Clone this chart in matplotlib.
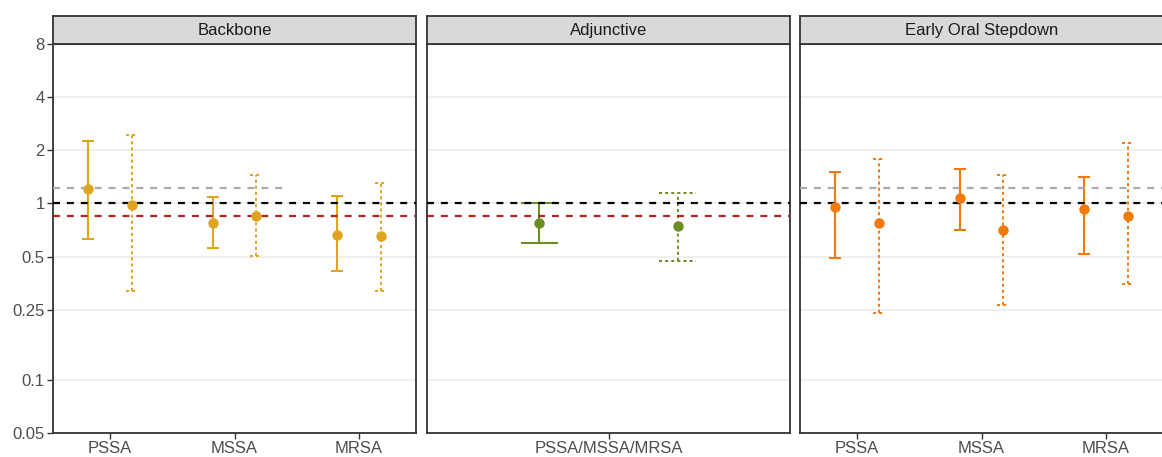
import numpy as np
import matplotlib
matplotlib.use("Agg")
import matplotlib.pyplot as plt

plt.rcParams['font.family'] = ['Liberation Sans', 'DejaVu Sans']
plt.rcParams['lines.scale_dashes'] = False

# Data (ratio estimates with intervals)
panels = ['Backbone', 'Adjunctive', 'Early Oral Stepdown']
colors = ['#DFA520', '#6B8E23', '#F27A0C']

bb_cats = ['PSSA', 'MSSA', 'MRSA']
bb_solid_est = [1.20, 0.773, 0.664]
bb_solid_lo = [0.63, 0.557, 0.413]
bb_solid_hi = [2.26, 1.086, 1.096]
bb_dash_est = [0.974, 0.847, 0.652]
bb_dash_lo = [0.318, 0.502, 0.318]
bb_dash_hi = [2.43, 1.455, 1.31]

adj_cats = ['PSSA/MSSA/MRSA']
adj_solid_est = [0.773]
adj_solid_lo = [0.595]
adj_solid_hi = [1.0]
adj_dash_est = [0.743]
adj_dash_lo = [0.472]
adj_dash_hi = [1.144]

eo_cats = ['PSSA', 'MSSA', 'MRSA']
eo_solid_est = [0.949, 1.072, 0.928]
eo_solid_lo = [0.49, 0.703, 0.515]
eo_solid_hi = [1.51, 1.575, 1.42]
eo_dash_est = [0.777, 0.703, 0.851]
eo_dash_lo = [0.24, 0.266, 0.35]
eo_dash_hi = [1.79, 1.448, 2.21]

ref_null = 1.0
ref_gray = 1.22
ref_red = 0.845

y_ticks = [0.05, 0.1, 0.25, 0.5, 1, 2, 4, 8]
y_labels = ['0.05', '0.1', '0.25', '0.5', '1', '2', '4', '8']

panel_data = [
    (bb_cats, bb_solid_est, bb_solid_lo, bb_solid_hi, bb_dash_est, bb_dash_lo, bb_dash_hi),
    (adj_cats, adj_solid_est, adj_solid_lo, adj_solid_hi, adj_dash_est, adj_dash_lo, adj_dash_hi),
    (eo_cats, eo_solid_est, eo_solid_lo, eo_solid_hi, eo_dash_est, eo_dash_lo, eo_dash_hi),
]

W, H = 1162, 457
fig = plt.figure(figsize=(W / 100, H / 100), dpi=100)

lefts = [53, 427, 800]
pw = 363
top, bottom = 44, 433
strip_h = 28
dodge = 0.175
cap = 0.048
edge = '#333333'

for i, (name, col, data) in enumerate(zip(panels, colors, panel_data)):
    cats, s_est, s_lo, s_hi, d_est, d_lo, d_hi = data
    ax = fig.add_axes([lefts[i] / W, 1 - bottom / H, pw / W, (bottom - top) / H])
    n = len(cats)
    x = np.arange(1, n + 1)
    xl = (1 - 0.46, n + 0.46)

    ax.set_yscale('log')
    ax.set_ylim(0.05, 8)
    ax.set_xlim(*xl)
    for t in y_ticks:
        ax.axhline(t, color='#EBEBEB', lw=1.1, zorder=0)

    # reference lines
    if i == 0:
        ax.plot([xl[0], 2.42], [ref_gray] * 2, color='#ABABAB', lw=1.6, dashes=(5, 5), zorder=3)
    if i == 2:
        ax.axhline(ref_gray, color='#ABABAB', lw=1.6, dashes=(5, 5), zorder=3)
    ax.axhline(ref_null, color='black', lw=1.6, dashes=(5, 5), zorder=3)
    if i < 2:
        ax.axhline(ref_red, color='#B22222', lw=1.6, dashes=(5, 5), zorder=3)

    # solid intervals
    xs = x - dodge
    ax.vlines(xs, s_lo, s_hi, color=col, lw=1.5, zorder=2)
    ax.hlines(s_lo, xs - cap, xs + cap, color=col, lw=1.5, zorder=2)
    ax.hlines(s_hi, xs - cap, xs + cap, color=col, lw=1.5, zorder=2)
    ax.plot(xs, s_est, 'o', color=col, ms=6.5, zorder=4)

    # dashed intervals
    xd = x + dodge
    ax.vlines(xd, d_lo, d_hi, color=col, lw=1.4, linestyles=(0, (2.2, 2.2)), zorder=2)
    ax.hlines(d_lo, xd - cap, xd + cap, color=col, lw=1.4, linestyles=(0, (2.2, 2.2)), zorder=2)
    ax.hlines(d_hi, xd - cap, xd + cap, color=col, lw=1.4, linestyles=(0, (2.2, 2.2)), zorder=2)
    ax.plot(xd, d_est, 'o', color=col, ms=6.5, zorder=4)

    ax.set_xticks(x)
    ax.set_xticklabels(cats)
    ax.minorticks_off()
    ax.set_yticks(y_ticks)
    if i == 0:
        ax.set_yticklabels(y_labels)
    else:
        ax.tick_params(axis='y', left=False, labelleft=False)
    ax.tick_params(axis='both', colors=edge, labelcolor='#4D4D4D', labelsize=12,
                   length=4, width=1.0, pad=2)
    for sp in ax.spines.values():
        sp.set_color(edge)
        sp.set_linewidth(1.3)

    # facet strip
    sax = fig.add_axes([lefts[i] / W, 1 - top / H, pw / W, strip_h / H])
    sax.set_xticks([])
    sax.set_yticks([])
    sax.set_facecolor('#D9D9D9')
    for sp in sax.spines.values():
        sp.set_color(edge)
        sp.set_linewidth(1.3)
    sax.text(0.5, 0.47, name, ha='center', va='center', fontsize=12, color='#1A1A1A',
             transform=sax.transAxes)

fig.savefig('out.png', dpi=100)
